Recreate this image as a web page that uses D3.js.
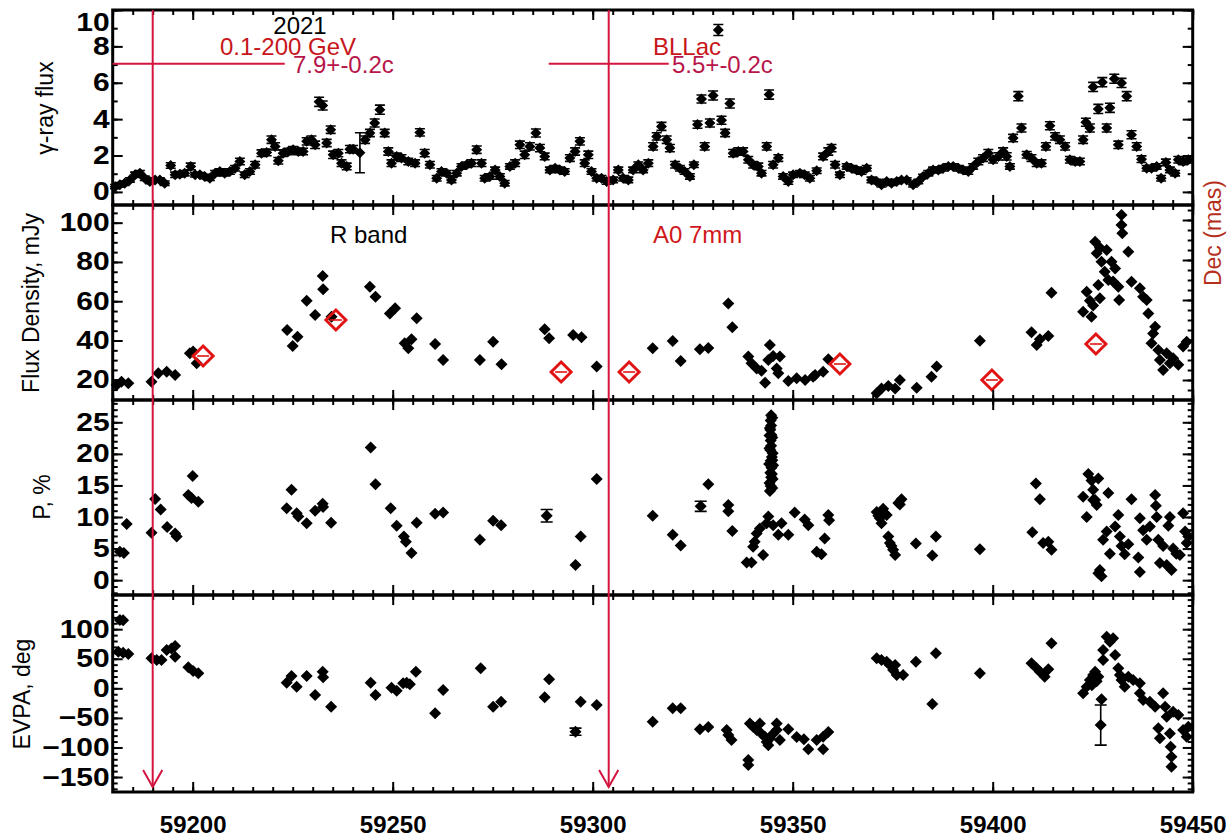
<!DOCTYPE html>
<html><head><meta charset="utf-8">
<script src="https://cdn.jsdelivr.net/npm/d3@7"></script>
<style>
body{margin:0;background:#fff;}
svg{display:block;font-family:"Liberation Sans",Arial,Helvetica,sans-serif;}
</style></head><body>
<svg id="chart" width="1230" height="838"></svg>
<script>
// ---- data: [MJD, value, error] ----
const gammaRay = [[59180.6,0.29,.12],[59181.8,0.39,.12],[59183,0.48,.12],[59184.3,0.66,.12],[59185.6,0.94,.15],[59186.8,1.03,.15],[59188,0.75,.12],[59189.3,0.57,.12],[59190.6,0.66,.12],[59191.8,0.66,.12],[59193,0.48,.12],[59194.5,1.45,.15],[59195.6,0.94,.15],[59196.8,0.97,.15],[59198,1.03,.15],[59199.5,1.4,.18],[59200.6,0.94,.12],[59201.8,0.94,.12],[59203,0.85,.12],[59204.3,0.75,.12],[59205.6,1.03,.15],[59206.8,1.12,.15],[59208,1.03,.15],[59209.3,1.12,.15],[59210.6,1.3,.15],[59211.8,1.67,.18],[59213,0.94,.15],[59214.3,1.12,.15],[59215.6,1.49,.18],[59217.2,2.13,.18],[59218.5,2.17,.18],[59219.7,2.87,.2],[59220.6,2.5,.2],[59221.4,1.71,.18],[59222.6,2.13,.18],[59223.9,2.22,.18],[59225.1,2.32,.18],[59226.4,2.22,.18],[59227.6,2.22,.18],[59228.5,2.78,.2],[59229.7,2.87,.2],[59230.6,2.59,.2],[59231.6,4.95,.25],[59232.5,4.75,.25],[59233.5,2.69,.2],[59234.5,3.42,.2],[59235.1,2.04,.2],[59236.4,2.13,.2],[59237.2,1.58,.18],[59238.5,1.4,.18],[59239.3,2.35,.2],[59240.1,2.35,.2],[59241.8,2.15,1.1],[59243.1,2.87,.2],[59244.3,3.24,.2],[59245.5,3.79,.22],[59246.8,4.52,.25],[59248,3.24,.2],[59248.9,2.22,.2],[59249.7,1.58,.18],[59251,1.95,.18],[59252.2,1.86,.18],[59253.9,1.67,.18],[59255.6,1.58,.18],[59256.8,3.27,.2],[59258,2.13,.2],[59259.3,1.49,.18],[59261,0.75,.15],[59262.2,1.12,.15],[59263.5,1.03,.15],[59264.7,0.66,.15],[59266,1.03,.15],[59267.2,1.4,.15],[59268.5,1.49,.15],[59269.7,1.58,.18],[59271,2.32,.2],[59272.2,1.58,.18],[59273,0.75,.15],[59274.3,0.85,.15],[59275.6,1.21,.15],[59276.8,0.85,.15],[59278,0.48,.15],[59279.3,1.4,.15],[59280.6,1.58,.18],[59281.8,2.59,.2],[59283,2.04,.2],[59284.3,2.5,.2],[59285.8,3.24,.22],[59286.8,2.41,.2],[59288,1.95,.18],[59289.3,1.21,.15],[59290.6,1.3,.15],[59291.8,1.21,.15],[59293,1.12,.15],[59294.3,1.86,.18],[59295.6,2.22,.2],[59296.8,2.78,.2],[59298,1.58,.18],[59298.9,2.04,.2],[59299.7,1.12,.15],[59301,0.75,.15],[59302.2,0.75,.15],[59303.5,0.57,.15],[59305.1,0.66,.15],[59306.4,1.21,.15],[59307.6,0.75,.15],[59308.9,0.66,.15],[59310.1,1.21,.15],[59311.4,1.49,.15],[59312.6,1.21,.15],[59313.9,1.58,.18],[59315.1,2.5,.2],[59316,3.05,.2],[59317.2,3.6,.22],[59318.5,2.87,.2],[59319.3,2.41,.2],[59320.6,1.49,.18],[59321.8,1.3,.15],[59323,1.12,.15],[59324.3,0.85,.15],[59325.3,1.49,.15],[59326.2,3.7,.2],[59327.2,5.11,.22],[59328,2.5,.2],[59329.3,3.79,.22],[59330.1,5.3,.25],[59331.4,8.9,.3],[59332.2,3.94,.22],[59333.1,3.24,.2],[59334.3,4.86,.25],[59335.1,2.13,.2],[59336.4,2.22,.2],[59337.6,2.22,.2],[59338.9,1.77,.18],[59340.1,1.49,.18],[59341.4,1.4,.18],[59342.2,1.03,.15],[59343.5,2.5,.2],[59344.1,5.35,.25],[59345.1,1.49,.18],[59346.4,1.86,.18],[59347.6,0.85,.15],[59348.9,0.57,.15],[59350.1,0.94,.15],[59351.8,1.03,.15],[59353,0.94,.15],[59354.3,0.75,.15],[59356,1.16,.15],[59357.6,1.95,.18],[59358.9,2.22,.2],[59359.7,2.41,.2],[59360.6,1.49,.18],[59361.8,0.94,.15],[59363.5,1.4,.15],[59364.7,1.3,.15],[59366,1.21,.15],[59367.2,1.12,.15],[59368.5,1.3,.15],[59369.7,0.66,.15],[59371,0.57,.12],[59372.2,0.39,.12],[59373.5,0.57,.12],[59374.7,0.48,.12],[59376,0.57,.12],[59377.2,0.66,.12],[59378.5,0.66,.12],[59380.1,0.39,.12],[59381.4,0.57,.12],[59382.6,0.85,.12],[59383.9,1.03,.15],[59385.1,1.21,.15],[59386.4,1.21,.15],[59387.6,1.3,.15],[59388.9,1.4,.15],[59390.1,1.4,.15],[59391.4,1.3,.15],[59392.6,1.21,.15],[59393.9,1.12,.15],[59395.1,1.4,.15],[59396.4,1.67,.18],[59397.6,1.86,.18],[59398.9,2.13,.2],[59400.1,1.77,.18],[59401.4,1.95,.2],[59402.6,2.22,.2],[59403.5,1.95,.2],[59404.3,1.4,.15],[59405.1,2.96,.2],[59406.4,5.26,.25],[59407.2,3.51,.22],[59408.5,2.04,.18],[59409.7,1.86,.18],[59411,1.58,.18],[59412.2,1.58,.18],[59413.3,2.5,.2],[59414.3,3.64,.22],[59415.6,3.05,.2],[59416.8,2.87,.2],[59418.1,2.5,.2],[59419.3,1.77,.18],[59420.6,1.67,.18],[59421.8,1.67,.18],[59422.6,2.87,.2],[59423.3,3.83,.22],[59424.3,3.51,.22],[59425.1,5.77,.25],[59426.4,4.56,.25],[59427.4,6.03,.25],[59428.5,3.51,.22],[59429.3,4.62,.25],[59430.4,6.22,.25],[59431.4,2.59,.2],[59432.2,5.99,.25],[59433.5,5.26,.25],[59434.7,3.14,.22],[59436,2.5,.2],[59437.2,1.8,.18],[59438.5,1.3,.15],[59439.7,1.3,.15],[59441,1.4,.15],[59442.1,0.75,.15],[59443.3,1.62,.18],[59444.3,1.21,.15],[59445.6,1.03,.15],[59446.4,1.77,.18],[59447.6,1.67,.18],[59448.9,1.77,.18]];

const rBandFlux = [[59181,17.4],[59182.2,19.0],[59183.9,18.2],[59189.7,19.0],[59191.4,23.3],[59193.5,24.1],[59195.6,22.4],[59199.3,33.5],[59200.1,34.4],[59201,28.4],[59223.6,45.3],[59225,37.2],[59226.2,41.9],[59228.5,60.3],[59230.6,53.0],[59232.5,72.8],[59232.6,66.1],[59234.7,52.1],[59244.3,67.4],[59245.7,62.3],[59249.3,53.8],[59250.6,56.4],[59253,38.6],[59253.9,36.0],[59254.7,40.6],[59256,51.3],[59260.6,38.2],[59262.6,30.1],[59271.8,30.1],[59275.1,39.4],[59277.2,27.9],[59288,45.7],[59289.1,41.1],[59295.1,42.8],[59297.2,41.6],[59301,26.7],[59315,36.0],[59320,39.7],[59322,29.6],[59326.8,35.5],[59328.9,36.2],[59333.9,58.9],[59334.9,46.7],[59338.9,31.8],[59339.7,28.4],[59341,25.8],[59342.2,24.6],[59343.1,18.5],[59343.9,30.1],[59344.3,37.7],[59345.1,32.1],[59346,25.8],[59346.4,23.3],[59346.8,31.8],[59348.9,19.4],[59351,20.8],[59353.1,19.9],[59355.1,21.6],[59355.6,22.4],[59357.6,24.1],[59358.9,30.4],[59371,13.1],[59372.2,15.6],[59373.9,16.8],[59375.6,15.6],[59376.8,19.9],[59381,16.0],[59384.7,21.6],[59386,26.7],[59396.8,39.9],[59409.7,44.2],[59411,37.7],[59411.8,40.6],[59413.9,42.3],[59414.7,64.3],[59422.6,54.7],[59423.5,64.8],[59424.3,60.3],[59424.7,52.1],[59425.1,57.8],[59425.6,90.3],[59426,84.4],[59426.4,68.2],[59426.8,87.2],[59426.8,61.5],[59427.2,80.1],[59428,75.0],[59428.5,86.1],[59428.9,70.8],[59429.7,80.1],[59430.1,70.0],[59430.6,76.7],[59431.4,67.4],[59431.6,60.6],[59432.2,103.9],[59432.2,98.8],[59432.4,94.6],[59433.9,85.2],[59434.7,69.9],[59436.8,66.6],[59437.6,62.3],[59438.5,60.6],[59438.9,53.8],[59439.7,38.6],[59440.1,43.6],[59440.6,47.0],[59441.4,35.2],[59441.8,30.1],[59442.6,25.0],[59443.5,33.5],[59444.3,28.4],[59445.1,31.0],[59446.4,27.6],[59447.6,36.9],[59448.5,39.4]];

// VLBA 7 mm core A0 declination offset (mas)
const coreDecDays = [59202.6, 59235.8, 59292.1, 59309.1, 59361.8, 59399.8, 59425.8];
const coreDec = [0.12, 0.30, 0.04, 0.04, 0.08, 0.00, 0.18];

const polDegree = [[59181.8,4.5],[59182.8,4.3],[59183.5,8.9],[59189.7,7.5],[59190.6,12.85],[59192,11.2],[59193.6,8.4],[59195.6,7.4],[59196,6.9],[59198.9,13.5],[59199.7,13.0],[59200,16.5],[59201.4,12.4],[59223.5,11.4],[59224.7,14.3],[59226,10.6],[59226.4,10.1],[59228.5,9.0],[59230.6,11.0],[59232.5,12.1],[59232.6,11.6],[59234.6,9.1],[59244.5,21.0],[59245.7,15.2],[59249.5,11.4],[59251,8.6],[59252.8,6.9],[59253.3,6.1],[59254.7,4.3],[59256,9.1],[59260.6,10.5],[59262.6,10.7],[59271.8,6.4],[59275.1,9.4],[59277.1,8.7],[59288.5,10.2,1.0],[59295.7,2.4],[59297,6.9],[59301,16.0],[59315,10.2],[59320,7.2],[59322,5.5],[59327,11.7,0.8],[59328.9,15.2],[59333.9,11.9],[59333.9,10.9],[59334.9,7.8],[59338.5,2.8],[59339.7,2.8],[59340.1,5.3],[59340.5,6.1],[59341,7.4],[59341.8,8.2],[59342.6,4.0],[59343.5,9.0],[59343.9,10.1],[59345.1,8.7],[59346.4,7.2],[59347.2,9.0],[59348.9,7.2],[59350.5,10.7],[59353,9.6],[59353.9,8.7],[59356,4.5],[59357.2,4.1],[59358,6.6],[59358.9,10.3],[59359.1,9.5],
[59344.3,14.1],[59344.5,14.9],[59344.2,15.4],[59344.6,16.3],[59344.4,17.0],[59344.7,17.8],[59344.5,18.9],[59344.8,19.5],[59344.4,20.6],[59344.6,21.3],[59344.5,22.1],[59344.7,23.0],[59344.4,23.8],[59344.6,24.5],[59344.5,25.3],[59344.6,26.1],
[59344.9,14.6],[59345.0,16.0],[59344.8,16.8],[59345.1,18.2],[59344.9,19.0],[59345.0,20.1],[59344.2,20.9],[59344.9,22.6],[59344.3,24.1],[59344.9,25.7],[59344.1,18.4],[59344.2,22.9],
[59371,10.8],[59371.4,10.2],[59371.8,9.8],[59372.6,11.3],[59372.9,10.6],[59373.5,10.3],[59372.2,9.0],[59373.9,6.9],[59374.3,5.9],[59374.7,5.4],[59375.1,4.8],[59375.6,4.0],[59376.4,12.2],[59377.2,12.8],[59376.8,12.0],[59380.8,5.8],[59384.9,3.9],[59385.8,6.9],[59396.8,4.9],[59409.9,7.6],[59410.8,15.3],[59411.8,12.8],[59412.6,5.9],[59413.9,6.1],[59414.7,4.8],[59422.6,13.2],[59423.5,10.0],[59423.9,16.8],[59424.7,15.8],[59425.1,14.3],[59425.6,12.7],[59426,11.9],[59426.4,16.1],[59425.1,12.7],[59426.8,1.6],[59427.2,0.6],[59426.4,1.1],[59427.6,6.4],[59428.5,7.7],[59428.9,13.8],[59429.3,4.2],[59430.6,8.5],[59431.4,10.3],[59431.8,6.9],[59432.2,5.4],[59433,4.1],[59433.9,5.7],[59434.7,12.8],[59436.8,9.8],[59436.4,3.6],[59436.8,1.3],[59437.6,7.9],[59438.5,6.4],[59439.3,8.5],[59440.6,13.5],[59440.8,11.8],[59441,10.0],[59441.4,6.4],[59441.8,2.7],[59442.6,5.4],[59443.5,2.4],[59443.9,8.6],[59444.3,10.0],[59444.7,1.6],[59445.1,5.0],[59445.9,4.2],[59446.8,4.0],[59447.6,10.6],[59448.1,7.7],[59448.5,5.9],[59448.9,6.9]];

const evpa = [[59181.8,115.5],[59182.6,115],[59181.4,61.9],[59182.6,60],[59183.9,58],[59189.7,50.7],[59191,48],[59192.2,48],[59193.5,64.8],[59194.7,67.5],[59195.6,71.5],[59195.6,53.5],[59198.9,35.5],[59200.1,29.3],[59201.4,25.4],[59223.5,9.5],[59224.7,20.8],[59226,2.7],[59228.5,20.8],[59230.6,-11.3],[59232.5,28.1],[59232.6,18.8],[59234.6,-31.1],[59244.5,9.5],[59245.7,-11.3],[59249.7,1.1],[59251,-4],[59252.6,8.5],[59253.5,9.5],[59254.3,7],[59255.8,28],[59260.6,-42.3],[59262.6,-2.9],[59272,33.8],[59275.1,-31.1],[59277.1,-22.6],[59288,-15.3],[59289.1,15.2],[59295.7,-73.3,6],[59297,-22.6],[59301,-28.2],[59315,-56.4],[59320,-33.9],[59322,-33.9],[59326.8,-69.4],[59328.9,-65.5],[59333.5,-70.5],[59333.9,-78.9],[59334.7,-87.4],[59338.9,-129.7],[59338.9,-121],[59339.3,-59.6],[59340.1,-65],[59341,-70.5],[59341.8,-59.6],[59342.2,-76.7],[59343.1,-82.2],[59343.5,-90.6],[59343.9,-96.3],[59344.3,-85],[59345.1,-76.7],[59346,-59.6],[59346,-70.5],[59346.8,-87.4],[59348.9,-69.4],[59351,-82.2],[59352.8,-86],[59353.9,-103],[59356,-87.4],[59357.6,-103],[59357.6,-82],[59358.9,-74],[59371,50.7],[59372.2,47.9],[59373.5,45],[59374.3,39.4],[59375.1,31],[59376,22.6],[59375.6,39.4],[59377.6,22.6],[59380.8,45],[59384.9,-26.5],[59385.8,59.2],[59396.8,25.4],[59409.7,42.3],[59411,33.8],[59411.8,28.2],[59413,19.7],[59413.9,32.1],[59414.7,76.1],[59422.6,-8.5],[59423.5,2.7],[59424.3,14],[59424.8,5],[59425.1,22.6],[59425.6,28],[59426,12],[59426.4,19.7],[59425.1,8.5],[59427,-62.1,34],[59427.2,-18.6],[59427.6,47.9],[59427.6,64.8],[59428.5,87.3],[59429.3,78.9],[59430.1,84.5],[59430.6,56.3],[59431.4,33.8],[59431.8,22.6],[59432.2,14],[59433,2.7],[59433.9,19.7],[59435.1,14],[59436.8,8.5],[59436.8,-8.5],[59437.6,-19.8],[59439.3,-22.6],[59440.6,-31.1],[59441.4,-67.6],[59441.8,-84.5],[59442.6,-8.5],[59443.1,-31.1],[59443.5,-48],[59444.3,-76.2],[59444.5,-98.7],[59444.7,-115.6],[59444.7,-132.5],[59445.1,-39.5],[59446.4,-45.1],[59447.6,-70.5],[59448.5,-82],[59448.9,-65]];

// ejection epochs of superluminal knots (MJD, +- uncertainty) and apparent speeds
const ejectionT0 = [59190, 59304];
const ejectionErr = [33, 15];
const speedLabels = ["7.9+-0.2c", "5.5+-0.2c"];

// axis tick values
const xMajorTicks = [59200, 59250, 59300, 59350, 59400, 59450];
const xMinorTicks = d3.range(59180, 59451, 5);

// ---- layout ----
const svg = d3.select("#chart");
const x = d3.scaleLinear().domain([59180, 59450]).range([112.7, 1192.7]);
const RED_LINE = "#d4143e";
const DEEP_RED = "#c8161a";

const panels = [
  { top: 10, bottom: 205, y: d3.scaleLinear().domain([-0.72, 10.0]).range([205, 10]),
    major: [0,2,4,6,8,10], minor: d3.range(0, 11, 1) },
  { top: 205, bottom: 400, y: d3.scaleLinear().domain([9.7, 109]).range([400, 205]),
    major: [20,40,60,80,100], minor: d3.range(10, 110, 5),
    yRight: d3.scaleLinear().domain([-0.1, 0.875]).range([400, 205]),
    rMajor: [0, 0.2, 0.4, 0.6, 0.8], rMinor: d3.range(-0.05, 0.87, 0.05) },
  { top: 400, bottom: 595, y: d3.scaleLinear().domain([-2.35, 28.53]).range([595, 400]),
    major: [0,5,10,15,20,25], minor: d3.range(-2, 29, 1) },
  { top: 595, bottom: 792, y: d3.scaleLinear().domain([-175.3, 157.8]).range([792, 595]),
    major: [-150,-100,-50,0,50,100], minor: d3.range(-170, 160, 10) }
];

function diamondPath(r) { return `M0,${-r}L${r},0L0,${r}L${-r},0Z`; }

function drawPoints(data, yScale, r, capW) {
  const g = svg.append("g");
  data.forEach(d => {
    if (d[2]) {
      const y1 = yScale(d[1] - d[2]), y2 = yScale(d[1] + d[2]), cx = x(d[0]);
      g.append("path")
        .attr("d", `M${cx},${y1}V${y2}M${cx-capW},${y1}H${cx+capW}M${cx-capW},${y2}H${cx+capW}`)
        .attr("stroke", "#000").attr("stroke-width", 1.6).attr("fill", "none");
    }
  });
  g.selectAll("path.pt").data(data).join("path").attr("class", "pt")
    .attr("d", diamondPath(r))
    .attr("transform", d => `translate(${x(d[0])},${yScale(d[1])})`)
    .attr("fill", "#000");
}

drawPoints(gammaRay, panels[0].y, 5.5, 5);
drawPoints(rBandFlux, panels[1].y, 6, 5);
drawPoints(polDegree, panels[2].y, 6, 6);
drawPoints(evpa, panels[3].y, 6, 6);

// 7 mm core declination (open red diamonds, right axis)
const decG = svg.append("g");
coreDecDays.forEach((d, i) => {
  const cx = x(d), cy = panels[1].yRight(coreDec[i]);
  decG.append("path").attr("d", diamondPath(10))
    .attr("transform", `translate(${cx},${cy})`)
    .attr("fill", "none").attr("stroke", "#e01414").attr("stroke-width", 3);
  decG.append("line").attr("x1", cx - 6).attr("x2", cx + 6).attr("y1", cy).attr("y2", cy)
    .attr("stroke", "#e01414").attr("stroke-width", 1.6);
});

// ---- axes and frames ----
function styleAxis(g) {
  g.select(".domain").remove();
  g.selectAll(".tick line").attr("stroke", "#000").attr("stroke-width", 2);
}

panels.forEach((p, i) => {
  const last = i === panels.length - 1;
  const g = svg.append("g");
  // x ticks
  g.append("g").attr("transform", `translate(0,${p.bottom})`)
    .call(d3.axisBottom(x).tickValues(xMinorTicks).tickSizeInner(-5).tickSizeOuter(0).tickFormat(""))
    .call(styleAxis);
  const xb = g.append("g").attr("transform", `translate(0,${p.bottom})`)
    .call(d3.axisBottom(x).tickValues(xMajorTicks).tickSizeInner(-10).tickSizeOuter(0)
      .tickPadding(24).tickFormat(last ? d3.format("d") : () => ""))
    .call(styleAxis);
  xb.selectAll("text").attr("font-size", 24).attr("font-weight", "bold")
    .attr("font-family", "Liberation Sans, Arial, sans-serif").attr("fill", "#000");
  g.append("g").attr("transform", `translate(0,${p.top})`)
    .call(d3.axisTop(x).tickValues(xMinorTicks).tickSizeInner(-5).tickSizeOuter(0).tickFormat(""))
    .call(styleAxis);
  g.append("g").attr("transform", `translate(0,${p.top})`)
    .call(d3.axisTop(x).tickValues(xMajorTicks).tickSizeInner(-10).tickSizeOuter(0).tickFormat(""))
    .call(styleAxis);
  // left y
  g.append("g").attr("transform", `translate(${x.range()[0]},0)`)
    .call(d3.axisLeft(p.y).tickValues(p.minor.filter(v => v >= p.y.domain()[0] && v <= p.y.domain()[1]))
      .tickSizeInner(-5).tickSizeOuter(0).tickFormat(""))
    .call(styleAxis);
  const yl = g.append("g").attr("transform", `translate(${x.range()[0]},0)`)
    .call(d3.axisLeft(p.y).tickValues(p.major).tickSizeInner(-10).tickSizeOuter(0).tickPadding(3)
      .tickFormat(d3.format("d")))
    .call(styleAxis);
  yl.selectAll("text").attr("font-size", 25).attr("font-weight", "bold")
    .attr("font-family", "Liberation Sans, Arial, sans-serif").attr("fill", "#000")
    .attr("x", -3 / 1.2).attr("transform", "scale(1.2,1)");
  if (i === 0) yl.selectAll("text").filter(d => d === 10).attr("y", 12);
  // right y
  const ry = p.yRight || p.y;
  const rMinor = (p.rMinor || p.minor).filter(v => v >= ry.domain()[0] && v <= ry.domain()[1]);
  g.append("g").attr("transform", `translate(${x.range()[1]},0)`)
    .call(d3.axisRight(ry).tickValues(rMinor).tickSizeInner(-5).tickSizeOuter(0).tickFormat(""))
    .call(styleAxis);
  g.append("g").attr("transform", `translate(${x.range()[1]},0)`)
    .call(d3.axisRight(ry).tickValues(p.rMajor || p.major).tickSizeInner(-10).tickSizeOuter(0).tickFormat(""))
    .call(styleAxis);
  // frame
  g.append("rect").attr("x", x.range()[0]).attr("y", p.top)
    .attr("width", x.range()[1] - x.range()[0]).attr("height", p.bottom - p.top)
    .attr("fill", "none").attr("stroke", "#000").attr("stroke-width", 3);
});

// ---- ejection epochs: vertical lines with arrows, horizontal uncertainty bars ----
const barLevel = panels[0].y(7.05);
ejectionT0.forEach((t, i) => {
  const cx = x(t);
  svg.append("line").attr("x1", cx).attr("x2", cx).attr("y1", panels[0].top).attr("y2", 787)
    .attr("stroke", RED_LINE).attr("stroke-width", 2);
  svg.append("path").attr("d", `M${cx - 9.6},770L${cx},787L${cx + 9.6},770`)
    .attr("fill", "none").attr("stroke", RED_LINE).attr("stroke-width", 2);
  const lo = Math.max(x.domain()[0], t - ejectionErr[i]);
  const hi = Math.min(x.domain()[1], t + ejectionErr[i]);
  svg.append("line").attr("x1", x(lo)).attr("x2", x(hi)).attr("y1", barLevel).attr("y2", barLevel)
    .attr("stroke", RED_LINE).attr("stroke-width", 2);
});

// ---- text ----
function label(txt, px, py, opts = {}) {
  return svg.append("text").attr("x", px).attr("y", py).text(txt)
    .attr("font-size", opts.size || 23).attr("fill", opts.color || "#000")
    .attr("text-anchor", opts.anchor || "start")
    .attr("font-weight", opts.weight || "normal");
}
label("2021", 300, 34, { anchor: "middle", size: 24 });
label("0.1-200 GeV", 220, 55, { color: DEEP_RED, size: 24 });
label(speedLabels[0], 293, 73, { color: "#b8164a", size: 24 });
label("BLLac", 653, 55, { color: DEEP_RED, size: 24 });
label(speedLabels[1], 672, 73, { color: "#b8164a", size: 24 });
label("R band", 330, 243, { size: 24 });
label("A0 7mm", 653, 243, { color: "#d0181c", size: 24 });

function yTitle(txt, cx, cy, color) {
  svg.append("text").attr("transform", `translate(${cx},${cy}) rotate(-90)`)
    .attr("text-anchor", "middle").attr("dy", "0.35em")
    .attr("font-size", 23).attr("fill", color || "#000").text(txt);
}
yTitle("γ-ray flux", 45, 108);
yTitle("Flux Density, mJy", 31, 303);
yTitle("P, %", 42, 497);
yTitle("EVPA, deg", 22, 694);
yTitle("Dec (mas)", 1213, 233, "#b5301c");
</script>
</body></html>
